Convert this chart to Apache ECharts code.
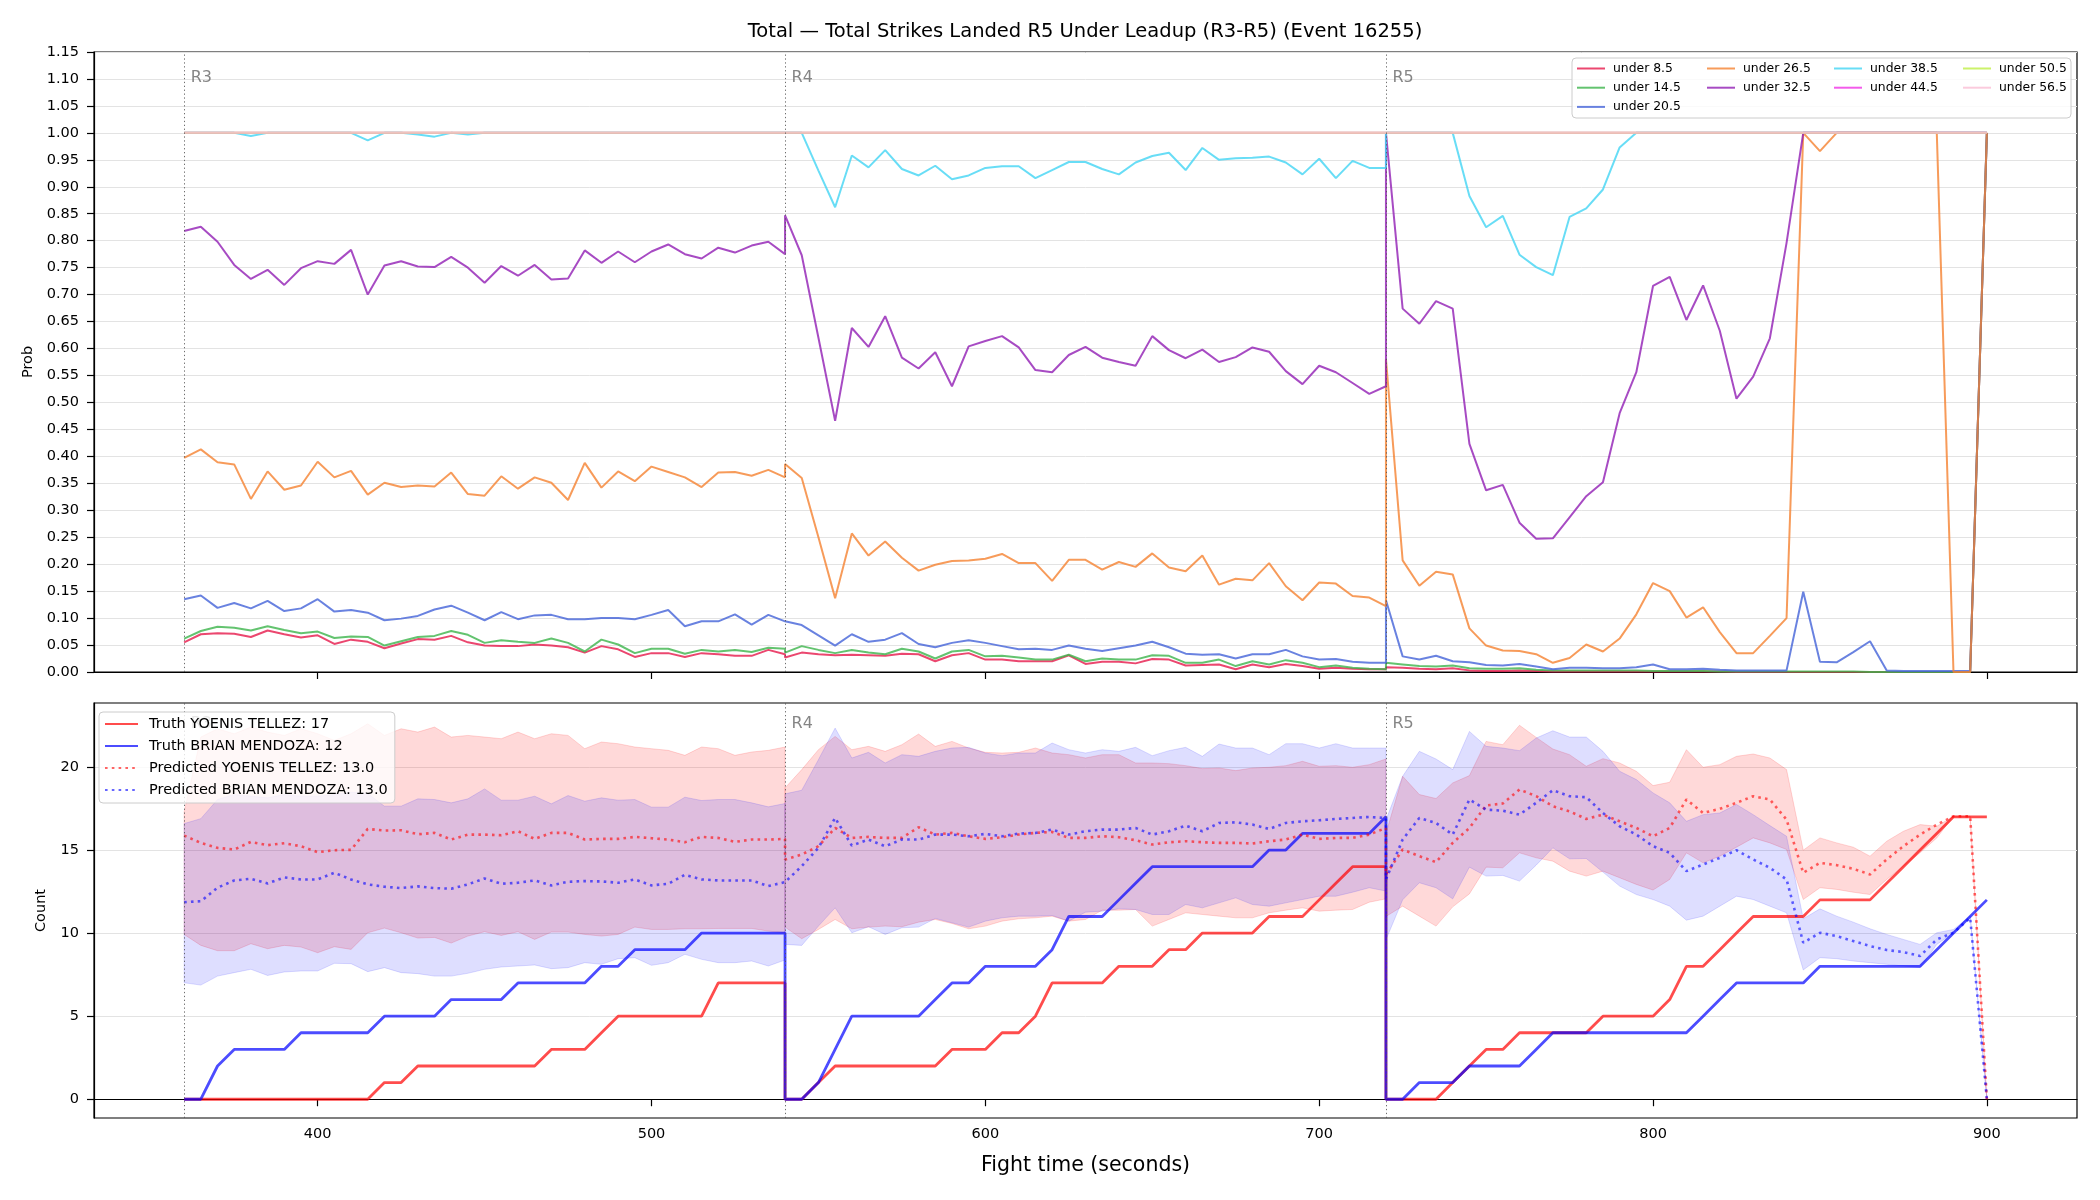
<!DOCTYPE html>
<html>
<head>
<meta charset="utf-8">
<title>Total Strikes Landed R5 Under Leadup</title>
<script src="https://cdn.jsdelivr.net/npm/echarts@6/dist/echarts.min.js"></script>
<style>
  html, body { margin: 0; padding: 0; background: #fff; }
  #chart { width: 2100px; height: 1200px; }
</style>
</head>
<body>
<div id="chart"></div>
<script>
// rounds R3..R5, one sample every 5 s (37 per round, the round start repeats the previous end time)
const roundStarts = [360, 540, 720];
const roundNames = ['R3', 'R4', 'R5'];
const stepSec = 5;
const pointsPerRound = 37;
const times = [];
roundStarts.forEach(function (s) {
  for (let k = 0; k < pointsPerRound; k++) times.push(s + k * stepSec);
});

const xTicks = [400, 500, 600, 700, 800, 900];
const countTicks = [0, 5, 10, 15, 20];

// ---- top panel: P(total under line) ----
const probNames = ['under 8.5', 'under 14.5', 'under 20.5', 'under 26.5', 'under 32.5',
  'under 38.5', 'under 44.5', 'under 50.5', 'under 56.5'];
const probColors = ['rgba(230,25,75,0.8)', 'rgba(60,180,75,0.8)', 'rgba(67,99,216,0.8)',
  'rgba(245,130,49,0.8)', 'rgba(145,30,180,0.8)', 'rgba(66,212,244,0.8)',
  'rgba(240,50,230,0.8)', 'rgba(191,239,69,0.8)', 'rgba(250,190,212,0.8)'];

const under8 = [
  0.055,0.070,0.072,0.071,0.065,0.077,0.070,0.064,0.068,0.052,0.060,0.056,0.044,0.053,0.061,0.060,0.067,0.055,0.049,0.048,0.048,0.051,0.049,0.046,0.036,0.048,0.042,0.028,0.035,0.035,0.028,0.035,0.033,0.030,0.030,0.041,0.033,
  0.027,0.036,0.033,0.031,0.032,0.031,0.030,0.034,0.033,0.020,0.031,0.035,0.023,0.023,0.020,0.020,0.020,0.031,0.015,0.019,0.019,0.016,0.024,0.023,0.012,0.013,0.014,0.005,0.014,0.009,0.015,0.011,0.006,0.008,0.006,0.005,0.005,
  0.009,0.008,0.006,0.005,0.007,0.003,0.002,0.002,0.003,0.002,0.001,0.001,0.001,0.001,0.001,0.001,0.001,0.001,0.001,0.001,0.001,0,0,0,0,0,0,0,0,0,0,0,0,0,0,0,1.0
];
const under14 = [
  0.062,0.076,0.084,0.082,0.077,0.085,0.078,0.072,0.075,0.063,0.066,0.065,0.049,0.057,0.065,0.067,0.076,0.069,0.054,0.059,0.056,0.054,0.062,0.054,0.038,0.060,0.051,0.035,0.043,0.043,0.034,0.041,0.038,0.041,0.037,0.045,0.043,
  0.036,0.048,0.041,0.035,0.041,0.036,0.033,0.043,0.038,0.025,0.038,0.041,0.029,0.030,0.027,0.023,0.023,0.032,0.020,0.025,0.023,0.023,0.031,0.030,0.017,0.017,0.023,0.011,0.020,0.014,0.022,0.017,0.009,0.012,0.008,0.006,0.005,
  0.017,0.014,0.011,0.010,0.012,0.007,0.006,0.006,0.007,0.004,0.003,0.003,0.003,0.003,0.003,0.003,0.002,0.002,0.002,0.002,0.001,0.001,0.001,0.001,0.001,0.001,0.001,0.001,0.001,0,0,0,0,0,0,0,1.0
];
const under20 = [
  0.135,0.142,0.119,0.128,0.118,0.132,0.113,0.118,0.135,0.112,0.115,0.110,0.096,0.099,0.104,0.116,0.123,0.110,0.096,0.111,0.098,0.105,0.106,0.098,0.098,0.100,0.100,0.098,0.106,0.115,0.085,0.094,0.094,0.107,0.088,0.106,0.094,
  0.093,0.087,0.068,0.049,0.070,0.056,0.060,0.072,0.052,0.046,0.054,0.059,0.054,0.048,0.042,0.043,0.041,0.049,0.043,0.039,0.044,0.049,0.056,0.046,0.034,0.032,0.033,0.025,0.033,0.033,0.041,0.029,0.023,0.024,0.019,0.017,0.017,
  0.133,0.029,0.023,0.030,0.020,0.018,0.013,0.012,0.015,0.010,0.005,0.008,0.008,0.007,0.007,0.009,0.014,0.005,0.005,0.006,0.004,0.003,0.003,0.003,0.003,0.149,0.019,0.018,0.037,0.057,0.003,0.002,0.002,0.002,0.002,0.002,1.0
];
const under26 = [
  0.397,0.413,0.389,0.385,0.321,0.372,0.338,0.346,0.390,0.361,0.373,0.329,0.351,0.343,0.346,0.344,0.370,0.330,0.327,0.363,0.340,0.361,0.351,0.319,0.388,0.342,0.372,0.354,0.381,0.371,0.361,0.343,0.370,0.371,0.364,0.375,0.361,
  0.386,0.360,0.250,0.137,0.257,0.216,0.242,0.212,0.188,0.199,0.206,0.207,0.210,0.219,0.202,0.202,0.169,0.208,0.208,0.190,0.204,0.195,0.220,0.194,0.187,0.216,0.162,0.173,0.170,0.202,0.159,0.133,0.166,0.164,0.141,0.138,0.122,
  0.580,0.207,0.160,0.186,0.181,0.081,0.049,0.040,0.039,0.033,0.017,0.026,0.051,0.038,0.062,0.107,0.165,0.150,0.101,0.120,0.074,0.035,0.035,0.067,0.100,1.0,0.966,1.0,1.0,1.0,1.0,1.0,1.0,1.0,0,0,1.0
];
const under32 = [
  0.818,0.826,0.798,0.755,0.729,0.746,0.718,0.749,0.762,0.757,0.783,0.700,0.754,0.762,0.752,0.751,0.770,0.750,0.722,0.753,0.735,0.755,0.728,0.730,0.782,0.759,0.780,0.760,0.780,0.793,0.775,0.767,0.787,0.778,0.791,0.798,0.775,
  0.847,0.773,0.620,0.466,0.638,0.603,0.660,0.583,0.563,0.593,0.530,0.604,0.614,0.623,0.602,0.560,0.556,0.588,0.603,0.583,0.575,0.568,0.623,0.597,0.582,0.598,0.575,0.584,0.602,0.594,0.558,0.534,0.568,0.556,0.536,0.516,0.530,
  1.0,0.674,0.646,0.688,0.674,0.423,0.337,0.347,0.277,0.247,0.248,0.287,0.326,0.352,0.480,0.556,0.716,0.733,0.653,0.717,0.633,0.507,0.548,0.619,0.796,1.0,1.0,1.0,1.0,1.0,1.0,1.0,1.0,1.0,1.0,1.0,1.0
];
const under38 = [
  1,1,1,1,0.994,1,1,1,1,1,1,0.986,1,1,0.997,0.993,1,0.997,1,1,1,1,1,1,1,1,1,1,1,1,1,1,1,1,1,1,1,
  1,1,0.930,0.862,0.958,0.936,0.968,0.933,0.921,0.939,0.914,0.921,0.935,0.938,0.938,0.916,0.931,0.946,0.946,0.933,0.923,0.945,0.957,0.963,0.931,0.972,0.950,0.953,0.954,0.956,0.945,0.923,0.952,0.916,0.948,0.935,0.935,
  1,1,1,1,1,0.883,0.825,0.846,0.774,0.751,0.736,0.844,0.860,0.895,0.973,1,1,1,1,1,1,1,1,1,1,1,1,1,1,1,1,1,1,1,1,1,1
];
const under44 = [
  1,1,1,1,1,1,1,1,1,1,1,1,1,1,1,1,1,1,1,1,1,1,1,1,1,1,1,1,1,1,1,1,1,1,1,1,1,
  1,1,1,1,1,1,1,1,1,1,1,1,1,1,1,1,1,1,1,1,1,1,1,1,1,1,1,1,1,1,1,1,1,1,1,1,1,
  1,1,1,1,1,1,1,1,1,1,1,1,1,1,1,1,1,1,1,1,1,1,1,1,1,1,1,1,1,1,1,1,1,1,1,1,1
];
const under50 = under44.slice();
const under56 = under44.slice();
const probData = [under8, under14, under20, under26, under32, under38, under44, under50, under56];

// ---- bottom panel: cumulative counts ----
const countNames = ['Truth YOENIS TELLEZ: 17', 'Truth BRIAN MENDOZA: 12',
  'Predicted YOENIS TELLEZ: 13.0', 'Predicted BRIAN MENDOZA: 13.0'];

const truthTellez = [
  0,0,0,0,0,0,0,0,0,0,0,0,1,1,2,2,2,2,2,2,2,2,3,3,3,4,5,5,5,5,5,5,7,7,7,7,7,
  0,0,1,2,2,2,2,2,2,2,3,3,3,4,4,5,7,7,7,7,8,8,8,9,9,10,10,10,10,11,11,11,12,13,14,14,14,
  0,0,0,0,1,2,3,3,4,4,4,4,4,5,5,5,5,6,8,8,9,10,11,11,11,11,12,12,12,12,13,14,15,16,17,17,17
];
const truthMendoza = [
  0,0,2,3,3,3,3,4,4,4,4,4,5,5,5,5,6,6,6,6,7,7,7,7,7,8,8,9,9,9,9,10,10,10,10,10,10,
  0,0,1,3,5,5,5,5,5,6,7,7,8,8,8,8,9,11,11,11,12,13,14,14,14,14,14,14,14,15,15,16,16,16,16,16,17,
  0,0,1,1,1,2,2,2,2,3,4,4,4,4,4,4,4,4,4,5,6,7,7,7,7,7,8,8,8,8,8,8,8,9,10,11,12
];
const predTellez = [
  15.87,15.43,15.13,15.03,15.49,15.29,15.41,15.23,14.87,14.99,15.01,16.27,16.17,16.19,15.95,16.03,15.63,15.93,15.93,15.89,16.13,15.67,16.03,16.03,15.63,15.67,15.67,15.79,15.71,15.63,15.47,15.79,15.73,15.49,15.63,15.63,15.67,
  14.43,14.73,15.23,16.33,15.73,15.79,15.73,15.73,16.37,15.93,16.03,15.83,15.67,15.77,15.93,16.03,16.09,15.73,15.73,15.83,15.77,15.59,15.33,15.47,15.53,15.47,15.43,15.43,15.39,15.53,15.63,15.93,15.67,15.73,15.73,15.93,16.33,
  13.53,15.03,14.63,14.27,15.43,16.33,17.68,17.80,18.64,18.24,17.64,17.33,16.87,17.13,16.73,16.33,15.83,16.33,18.04,17.23,17.48,17.84,18.24,18.04,16.83,13.63,14.23,14.09,13.87,13.53,14.43,15.23,15.93,16.53,17.03,17.03,0
];
const predMendoza = [
  11.86,11.92,12.73,13.17,13.27,12.99,13.35,13.23,13.23,13.63,13.23,12.93,12.79,12.71,12.81,12.71,12.67,12.93,13.29,12.97,13.03,13.17,12.87,13.09,13.13,13.11,13.03,13.23,12.87,12.97,13.51,13.23,13.17,13.17,13.17,12.83,13.07,
  13.13,14.03,15.13,16.93,15.27,15.63,15.23,15.63,15.63,15.93,15.93,15.83,15.97,15.83,15.99,16.03,16.23,15.93,16.13,16.23,16.23,16.33,15.93,16.13,16.47,16.13,16.63,16.67,16.53,16.27,16.63,16.73,16.79,16.87,16.93,16.99,16.93,
  13.23,15.63,16.93,16.63,15.93,18.04,17.43,17.37,17.13,17.84,18.60,18.24,18.18,17.23,16.43,15.93,15.23,14.83,13.73,14.13,14.53,14.99,14.43,13.93,13.23,9.42,10.02,9.82,9.52,9.22,8.98,8.86,8.62,9.62,10.02,10.92,0
];
// prediction bands (upper / lower)
const tellezUpper = [
  17.3,21.8,22.3,22.0,22.4,22.1,21.9,22.3,22.0,21.6,22.0,22.6,21.9,22.3,22.1,22.4,21.8,21.9,21.8,21.7,22.1,21.7,22.0,21.9,21.1,21.5,21.4,21.2,21.1,21.0,20.7,21.2,21.1,20.7,20.9,21.0,21.2,
  18.74,19.84,21.04,21.84,21.04,21.24,20.94,21.34,21.98,21.24,21.54,21.14,20.88,20.84,20.88,21.14,20.84,20.74,20.54,20.74,20.74,20.24,20.24,20.20,20.08,19.90,19.94,19.78,19.94,19.98,20.08,20.34,20.04,20.08,19.98,20.14,20.48,
  16.0,19.44,18.34,18.10,19.04,19.48,21.54,21.34,22.51,21.78,21.08,20.74,20.04,20.50,20.24,19.74,18.88,19.08,21.04,19.98,20.14,20.64,20.78,20.54,19.84,14.99,15.73,15.43,15.17,14.63,15.53,16.13,16.53,16.43,17.03,17.03,0
];
const tellezLower = [
  9.92,9.26,8.94,8.94,9.36,9.06,9.26,9.16,8.82,9.18,9.02,10.02,10.30,10.02,9.70,9.74,9.40,9.82,10.08,9.86,10.08,9.62,10.06,10.06,9.92,9.82,9.92,10.36,10.22,10.22,10.26,10.26,10.28,10.28,10.28,10.12,10.02,
  10.36,9.66,10.22,10.82,10.26,10.36,10.42,10.38,10.66,10.82,10.58,10.26,10.42,10.72,10.86,10.92,11.02,10.72,10.82,11.38,11.38,11.42,10.42,10.82,11.22,11.12,11.02,10.92,10.92,11.22,11.38,11.52,11.32,11.38,11.42,11.86,12.06,
  11.0,11.62,11.02,10.42,11.58,12.36,13.97,13.93,14.83,14.53,14.33,13.73,13.43,13.73,13.33,12.93,12.59,13.23,14.83,14.23,14.63,15.17,15.73,15.43,15.03,12.02,12.73,12.63,12.46,12.32,13.23,14.03,14.83,15.73,17.03,17.03,0
];
const mendozaUpper = [
  16.59,16.89,18.04,18.34,18.24,18.14,18.34,18.24,18.24,18.34,18.48,18.40,17.64,17.64,18.08,18.04,17.84,18.08,18.68,18.00,18.00,18.24,17.78,18.28,17.94,18.14,18.00,18.04,17.58,17.58,18.18,17.98,18.04,18.04,17.84,17.60,17.80,
  18.38,18.60,20.44,22.34,20.54,20.88,20.24,20.74,20.64,20.94,21.14,21.18,20.84,20.68,20.84,20.84,21.44,21.04,20.84,21.04,20.94,21.18,20.68,20.98,21.18,20.64,21.38,21.14,21.14,20.74,21.40,21.40,21.14,21.40,21.14,21.14,21.14,
  16.8,19.44,20.94,20.48,19.84,22.14,21.24,21.14,20.98,21.74,22.18,21.80,21.80,20.94,19.74,19.24,18.44,17.84,16.73,17.13,17.23,17.74,17.13,16.47,15.83,10.86,11.46,11.02,10.66,10.26,9.92,9.62,9.32,10.02,10.22,11.02,0
];
const mendozaLower = [
  7.01,6.87,7.41,7.62,7.82,7.45,7.66,7.72,7.72,8.18,8.16,7.68,7.92,7.62,7.56,7.41,7.41,7.58,7.82,7.96,8.02,8.08,7.86,7.92,8.22,8.12,8.46,8.52,8.06,8.22,8.72,8.42,8.22,8.22,8.32,8.02,8.38,
  9.32,9.26,10.42,11.52,10.02,10.38,9.92,10.32,10.36,10.88,10.62,10.36,10.72,10.92,11.02,11.02,11.06,10.72,11.26,11.32,11.46,11.42,11.12,11.12,11.72,11.52,11.82,12.12,11.72,11.62,11.82,12.02,12.22,12.22,12.46,12.73,12.53,
  9.6,12.0,13.03,12.73,12.06,13.97,13.43,13.47,13.13,14.09,15.13,14.47,14.49,13.67,12.83,12.32,12.02,11.62,10.78,11.02,11.62,12.22,12.02,11.62,11.22,7.78,8.52,8.46,8.32,8.22,8.12,8.02,7.92,9.32,10.02,11.02,0
];

const FONT = 'DejaVu Sans';
const pairs = function (arr) { return times.map(function (t, i) { return [t, arr[i]]; }); };

const roundLines = {
  silent: true,
  symbol: ['none', 'none'],
  label: { show: false },
  lineStyle: { type: [1.3, 2.6], color: '#555', width: 1, opacity: 0.85 },
  data: roundStarts.map(function (x) { return { xAxis: x }; }),
};

function roundLabelSeries(axisIdx, yVal) {
  return {
    type: 'scatter', xAxisIndex: axisIdx, yAxisIndex: axisIdx, silent: true,
    symbolSize: 1, itemStyle: { color: 'rgba(0,0,0,0)' },
    data: roundStarts.map(function (s, i) { return [s, yVal, roundNames[i]]; }),
    label: {
      show: true, position: 'right', distance: 6,
      formatter: function (p) { return p.data[2]; },
      fontFamily: FONT, fontSize: 16, color: '#666',
    },
    z: 4,
  };
}

function bandSeries(upper, lower, color) {
  return {
    type: 'custom', xAxisIndex: 1, yAxisIndex: 1, silent: true, z: 1,
    encode: { x: 0, y: 1 },
    data: roundStarts.map(function (s) { return [s + 90, 0]; }),
    renderItem: function (params, api) {
      const r = params.dataIndex;
      const pts = [];
      for (let k = 0; k < pointsPerRound; k++) {
        const i = r * pointsPerRound + k;
        pts.push(api.coord([times[i], upper[i]]));
      }
      for (let k = pointsPerRound - 1; k >= 0; k--) {
        const i = r * pointsPerRound + k;
        pts.push(api.coord([times[i], lower[i]]));
      }
      return {
        type: 'polygon',
        shape: { points: pts },
        style: { fill: color, stroke: color, lineWidth: 1 },
      };
    },
  };
}

const series = [];
probData.forEach(function (arr, j) {
  const s = {
    name: probNames[j], type: 'line', xAxisIndex: 0, yAxisIndex: 0,
    data: pairs(arr), symbol: 'none', color: probColors[j],
    lineStyle: { width: 2 }, z: 3,
  };
  if (j === 0) s.markLine = roundLines;
  series.push(s);
});
series.push(roundLabelSeries(0, 1.1025));

series.push(bandSeries(tellezUpper, tellezLower, 'rgba(255,0,0,0.15)'));
series.push(bandSeries(mendozaUpper, mendozaLower, 'rgba(0,0,255,0.13)'));
series.push({
  name: countNames[0], type: 'line', xAxisIndex: 1, yAxisIndex: 1,
  data: pairs(truthTellez), symbol: 'none', color: 'rgba(255,0,0,0.7)',
  lineStyle: { width: 2.8 }, z: 3, markLine: roundLines,
});
series.push({
  name: countNames[1], type: 'line', xAxisIndex: 1, yAxisIndex: 1,
  data: pairs(truthMendoza), symbol: 'none', color: 'rgba(0,0,255,0.7)',
  lineStyle: { width: 2.8 }, z: 3,
});
series.push({
  name: countNames[2], type: 'line', xAxisIndex: 1, yAxisIndex: 1,
  data: pairs(predTellez), symbol: 'none', color: 'rgba(255,0,0,0.6)',
  lineStyle: { width: 2.6, type: [2.6, 4.2] }, z: 3,
});
series.push({
  name: countNames[3], type: 'line', xAxisIndex: 1, yAxisIndex: 1,
  data: pairs(predMendoza), symbol: 'none', color: 'rgba(0,0,255,0.6)',
  lineStyle: { width: 2.6, type: [2.6, 4.2] }, z: 3,
});
series.push(roundLabelSeries(1, 22.6));

// legend columns like matplotlib ncol=4
const legendCols = [[0, 1, 2], [3, 4], [5, 6], [7, 8]];
const legendLefts = [1576, 1706, 1833, 1962];
const legends = legendCols.map(function (cols, c) {
  return {
    orient: 'vertical', left: legendLefts[c], top: 61, padding: 0,
    itemWidth: 28, itemHeight: 10, itemGap: 4.2, selectedMode: false,
    data: cols.map(function (j) { return probNames[j]; }),
    itemStyle: { opacity: 0 },
    textStyle: { fontFamily: FONT, fontSize: 12.4, color: '#000', lineHeight: 15, padding: [0, 0, 0, 3] },
    z: 12,
  };
});
legends.push({
  orient: 'vertical', left: 99, top: 712, padding: [3, 7, 4, 5],
  itemWidth: 33, itemHeight: 14, itemGap: 4, selectedMode: false,
  data: countNames,
  itemStyle: { opacity: 0 },
  backgroundColor: 'rgba(255,255,255,0.8)', borderColor: '#cccccc', borderWidth: 1, borderRadius: 4,
  textStyle: { fontFamily: FONT, fontSize: 14.5, color: '#000', lineHeight: 18, padding: [0, 0, 0, 6] },
  z: 12,
});

const tickStyle = { show: true, inside: false, length: 7, lineStyle: { color: '#000', width: 1.2 } };
const gridLine = { show: true, lineStyle: { color: '#e3e3e3', width: 1 } };

const option = {
  animation: false,
  backgroundColor: '#fff',
  title: {
    text: 'Total — Total Strikes Landed R5 Under Leadup (R3-R5) (Event 16255)',
    left: 1085, top: 22, textAlign: 'center', padding: 0,
    textStyle: { fontFamily: FONT, fontSize: 19.5, fontWeight: 'normal', color: '#000' },
  },
  graphic: [{
    type: 'rect', z: 11,
    shape: { x: 1572, y: 58, width: 499, height: 60, r: 4 },
    style: { fill: 'rgba(255,255,255,0.8)', stroke: '#cccccc', lineWidth: 1 },
  }],
  legend: legends,
  grid: [
    { left: 94, top: 52, width: 1983, height: 620, show: true, borderColor: '#000', borderWidth: 1.2, backgroundColor: 'transparent' },
    { left: 94, top: 703, width: 1983, height: 415, show: true, borderColor: '#000', borderWidth: 1.2, backgroundColor: 'transparent' },
  ],
  xAxis: [
    {
      type: 'value', gridIndex: 0, min: 333, max: 927,
      axisLine: { show: true, lineStyle: { color: '#000', width: 1.2 } },
      axisTick: Object.assign({ customValues: xTicks }, tickStyle),
      axisLabel: { show: false, customValues: xTicks },
      splitLine: { show: false },
    },
    {
      type: 'value', gridIndex: 1, min: 333, max: 927,
      axisLine: { show: true, lineStyle: { color: '#000', width: 1.2 } },
      axisTick: Object.assign({ customValues: xTicks }, tickStyle),
      axisLabel: { customValues: xTicks, fontFamily: FONT, fontSize: 14.5, color: '#000', margin: 9 },
      splitLine: { show: false },
      name: 'Fight time (seconds)', nameLocation: 'middle', nameGap: 37,
      nameTextStyle: { fontFamily: FONT, fontSize: 20.5, color: '#000' },
    },
  ],
  yAxis: [
    {
      type: 'value', gridIndex: 0, min: 0, max: 1.15, interval: 0.05,
      axisLine: { show: true, lineStyle: { color: '#000', width: 1.2 } },
      axisTick: tickStyle,
      axisLabel: {
        fontFamily: FONT, fontSize: 14.5, color: '#000', margin: 15,
        formatter: function (v) { return v.toFixed(2); },
      },
      splitLine: gridLine,
      name: 'Prob', nameLocation: 'middle', nameGap: 56,
      nameTextStyle: { fontFamily: FONT, fontSize: 14.5, color: '#000' },
    },
    {
      type: 'value', gridIndex: 1, min: -1.13, max: 23.85,
      axisLine: { show: true, lineStyle: { color: '#000', width: 1.2 } },
      axisTick: Object.assign({ customValues: countTicks }, tickStyle),
      axisLabel: { customValues: countTicks, fontFamily: FONT, fontSize: 14.5, color: '#000', margin: 15 },
      splitLine: gridLine,
      name: 'Count', nameLocation: 'middle', nameGap: 45,
      nameTextStyle: { fontFamily: FONT, fontSize: 14.5, color: '#000' },
    },
  ],
  series: series,
};

const chart = echarts.init(document.getElementById('chart'));
chart.setOption(option);
</script>
</body>
</html>
